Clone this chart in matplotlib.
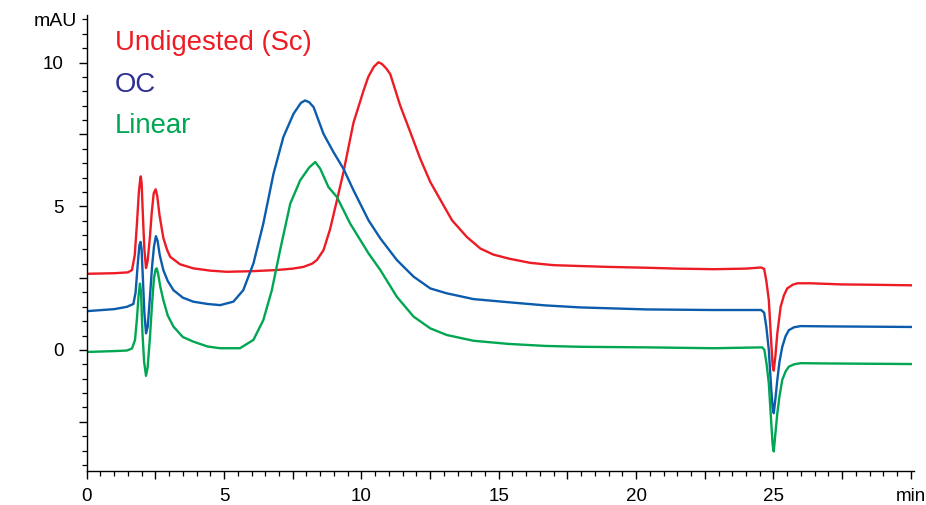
import matplotlib
matplotlib.use('Agg')
import matplotlib.pyplot as plt
from matplotlib.ticker import MultipleLocator, FixedLocator, FuncFormatter

plt.rcParams['font.family'] = ['Liberation Sans', 'DejaVu Sans']

# values (time in min, absorbance in mAU)
t_sc = [0.0, 1.0, 1.5, 1.65, 1.75, 1.83, 1.90, 1.95, 1.97, 2.00, 2.05, 2.10, 2.16,
        2.22, 2.30, 2.37, 2.44, 2.51, 2.57, 2.65, 2.79, 2.92, 3.04, 3.4, 3.88, 4.5,
        5.10, 6.0, 6.9, 7.5, 7.89, 8.2, 8.38, 8.62, 8.86, 9.11, 9.35, 9.71, 10.08,
        10.25, 10.45, 10.62, 10.75, 10.9, 11.05, 11.41, 11.78, 12.14, 12.51, 12.99,
        13.30, 13.84, 14.33, 14.8, 15.36, 16.15, 17.0, 17.97, 19.0, 20.40, 21.5,
        22.83, 24.0, 24.55, 24.66, 24.74, 24.83, 24.92, 24.97, 25.01, 25.07, 25.14,
        25.26, 25.38, 25.50, 25.7, 25.87, 26.35, 27.5, 28.5, 30.0]
y_sc = [2.65, 2.67, 2.70, 2.78, 3.3, 4.4, 5.5, 5.95, 6.04, 5.8, 4.6, 3.5, 2.85,
        3.1, 3.9, 4.8, 5.45, 5.59, 5.35, 4.7, 3.9, 3.5, 3.24, 2.98, 2.84, 2.76,
        2.72, 2.74, 2.78, 2.83, 2.89, 3.0, 3.13, 3.47, 4.2, 5.21, 6.2, 7.9, 9.03,
        9.5, 9.85, 10.01, 9.95, 9.8, 9.6, 8.51, 7.58, 6.66, 5.84, 5.03,
        4.51, 3.93, 3.53, 3.32, 3.18, 3.03, 2.95, 2.92, 2.89, 2.86, 2.83,
        2.81, 2.83, 2.87, 2.82, 2.4, 1.74, 0.23, -0.55, -0.72, -0.2, 0.58,
        1.50, 1.9, 2.14, 2.27, 2.32, 2.32, 2.28, 2.27, 2.25]

t_oc = [0.0, 1.0, 1.46, 1.70, 1.78, 1.86, 1.92, 1.96, 2.00, 2.05, 2.10, 2.16, 2.22,
        2.30, 2.38, 2.45, 2.52, 2.58, 2.66, 2.79, 2.95, 3.16, 3.5, 3.88, 4.4, 4.86,
        5.34, 5.70, 6.07, 6.43, 6.80, 7.16, 7.53, 7.80, 7.95, 8.1, 8.26, 8.62, 8.98,
        9.35, 9.71, 10.26, 10.69, 11.29, 11.90, 12.51, 13.11, 14.08, 15.36, 16.7,
        17.97, 20.40, 22.83, 24.55, 24.66, 24.74, 24.83, 24.92, 24.97, 25.01, 25.07,
        25.14, 25.22, 25.32, 25.44, 25.56, 25.75, 25.99, 27.0, 30.0]
y_oc = [1.35, 1.42, 1.50, 1.6, 2.0, 3.0, 3.65, 3.76, 3.5, 2.4, 1.3, 0.58, 0.8,
        1.8, 2.9, 3.6, 3.96, 3.8, 3.3, 2.78, 2.4, 2.08, 1.82, 1.68, 1.60, 1.56,
        1.68, 2.08, 3.01, 4.40, 6.13, 7.41, 8.22, 8.6, 8.68, 8.62, 8.45, 7.52, 6.89,
        6.30, 5.56, 4.51, 3.88, 3.13, 2.55, 2.14, 1.97, 1.77, 1.66, 1.55,
        1.48, 1.41, 1.39, 1.39, 1.30, 0.8, 0.0, -1.39, -2.0, -2.20, -1.7,
        -1.04, -0.4, 0.11, 0.48, 0.69, 0.79, 0.83, 0.82, 0.80]

t_lin = [0.0, 1.0, 1.46, 1.65, 1.76, 1.83, 1.89, 1.94, 1.98, 2.03, 2.09, 2.16, 2.22,
         2.30, 2.38, 2.45, 2.51, 2.55, 2.60, 2.68, 2.79, 2.95, 3.16, 3.5, 3.88, 4.4,
         4.86, 5.58, 6.07, 6.43, 6.74, 7.04, 7.41, 7.77, 8.1, 8.32, 8.50, 8.80, 9.11,
         9.59, 10.26, 10.69, 11.29, 11.90, 12.51, 13.11, 14.08, 15.36, 16.7, 17.97,
         20.40, 22.83, 24.59, 24.67, 24.75, 24.83, 24.92, 24.97, 25.01, 25.07, 25.14,
         25.22, 25.32, 25.44, 25.56, 25.75, 25.99, 27.0, 30.0]
y_lin = [-0.07, -0.04, -0.02, 0.05, 0.35, 1.1, 1.9, 2.31, 2.0, 0.6, -0.4, -0.90, -0.6,
         0.4, 1.6, 2.5, 2.8, 2.84, 2.65, 2.2, 1.74, 1.2, 0.81, 0.45, 0.29, 0.12,
         0.06, 0.06, 0.35, 1.04, 2.08, 3.47, 5.09, 5.90, 6.35, 6.54, 6.31, 5.67, 5.32,
         4.40, 3.36, 2.78, 1.85, 1.16, 0.75, 0.52, 0.32, 0.21, 0.14, 0.11,
         0.09, 0.06, 0.09, 0.0, -0.5, -1.16, -2.55, -3.3, -3.53, -2.9, -2.20,
         -1.6, -1.04, -0.75, -0.58, -0.5, -0.46, -0.47, -0.49]

names = ['Undigested (Sc)', 'OC', 'Linear']
line_colors = ['#ED1C24', '#0B5CAD', '#00A651']
text_colors = ['#ED1C24', '#2E3192', '#00A651']

fig = plt.figure(figsize=(9.26, 5.05), dpi=100)
ax = fig.add_axes([0.0936, 0.068, 0.893, 0.902])

ax.plot(t_sc, y_sc, color=line_colors[0], lw=1.7)
ax.plot(t_oc, y_oc, color=line_colors[1], lw=1.7)
ax.plot(t_lin, y_lin, color=line_colors[2], lw=1.7)

for s in ['top', 'right']:
    ax.spines[s].set_visible(False)
for s in ['left', 'bottom']:
    ax.spines[s].set_linewidth(1.0)

# major ticks every 2.5, labels only every 5
ax.xaxis.set_major_locator(FixedLocator([0, 2.5, 5, 7.5, 10, 12.5, 15, 17.5, 20,
                                         22.5, 25, 27.5, 30]))
ax.xaxis.set_major_formatter(FuncFormatter(
    lambda v, p: 'min' if v == 30 else ('%d' % v if v % 5 == 0 else '')))
ax.xaxis.set_minor_locator(MultipleLocator(0.5))
ax.yaxis.set_major_locator(FixedLocator([-2.5, 0, 2.5, 5, 7.5, 10]))
ax.yaxis.set_major_formatter(FuncFormatter(
    lambda v, p: '%d' % v if v % 5 == 0 else ''))
ax.yaxis.set_minor_locator(MultipleLocator(0.5))

ax.tick_params(which='major', length=5.5, width=1.0, labelsize=13.5, direction='out')
ax.tick_params(axis='x', which='major', pad=7)
ax.tick_params(axis='y', which='major', pad=11)
ax.tick_params(which='minor', length=3.5, width=0.9, direction='out')

ax.set_xlim(0, 30.1)
ax.set_ylim(-4.2, 11.65)

fig.text(55 / 926, 1 - 22 / 505, 'mAU', fontsize=14, ha='center', va='center')

for i, (name, c) in enumerate(zip(names, text_colors)):
    fig.text(115 / 926, 1 - (43 + 41.5 * i) / 505, name, color=c, fontsize=19.8,
             ha='left', va='center')

fig.savefig('out.png', dpi=100)
